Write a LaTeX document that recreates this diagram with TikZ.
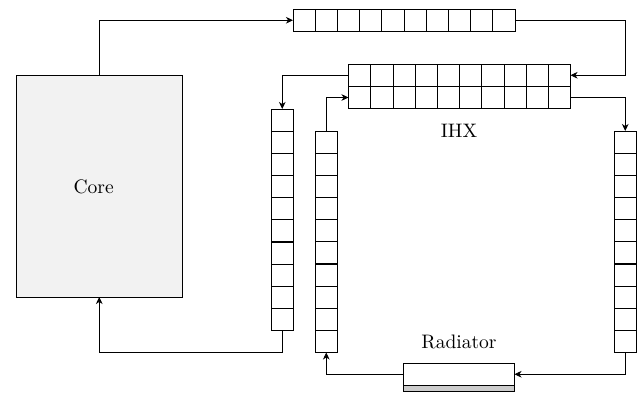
\documentclass[tikz,border=0pt]{standalone}
\usetikzlibrary{arrows.meta}
\tikzset{
  cell/.style={draw,minimum width=22.2*0.5123pt,minimum height=22.2*0.5123pt,inner sep=0pt,outer sep=0pt},
  corebox/.style={draw,fill=black!5,minimum width=166.5*0.5123pt,minimum height=221.5*0.5123pt,inner sep=0pt,outer sep=0pt},
  radbox/.style={draw,minimum width=111*0.5123pt,minimum height=21.5*0.5123pt,inner sep=0pt,outer sep=0pt},
  radbar/.style={draw,fill=black!20,minimum width=111*0.5123pt,minimum height=6*0.5123pt,inner sep=0pt,outer sep=0pt},
  tag/.style={inner sep=0pt,outer sep=0pt},
  flow/.style={-{Stealth[length=3.6pt,width=3.4pt,inset=1.1pt]}}
}
\begin{document}
\begin{tikzpicture}[x=0.5123pt,y=-0.5123pt]
\useasboundingbox (0,0) rectangle (638,393);
\node[corebox] (core) at (99.25,186.25) {};
\node[tag] (corelabel) at (93.7,187) {Core};
\foreach \i in {1,...,10} {
  \node[cell] (t\i) at ({293+22.2*(\i-0.5)},20.25) {};
  \node[cell] (ia\i) at ({348.5+22.2*(\i-0.5)},75.25) {};
  \node[cell] (ib\i) at ({348.5+22.2*(\i-0.5)},97.5) {};
  \node[cell] (lp\i) at (282.25,{109+22.15*(\i-0.5)}) {};
  \node[cell] (mp\i) at (326.25,{131+22.15*(\i-0.5)}) {};
  \node[cell] (rp\i) at (625.25,{131+22.15*(\i-0.5)}) {};
}
\node[tag] (ihxlabel) at (459,131) {IHX};
\node[tag] (radlabel) at (459,342) {Radiator};
\node[radbox] (rad) at (459,374.25) {};
\node[radbar] (radb) at (459,388) {};
\coordinate (turnr) at (625.25,20.25);
\coordinate (turnb) at (282.25,352.5);
\draw[flow] (core.north) |- (t1.west);
\draw[flow] (t10.east) -- (turnr) |- (ia10.east);
\draw[flow] (ia1.west) -| (lp1.north);
\draw[flow] (mp1.north) |- (ib1.west);
\draw[flow] (ib10.east) -| (rp1.north);
\draw[flow] (rp10.south) |- (rad.east);
\draw[flow] (rad.west) -| (mp10.south);
\draw[flow] (lp10.south) -- (turnb) -| (core.south);
\end{tikzpicture}
\end{document}
